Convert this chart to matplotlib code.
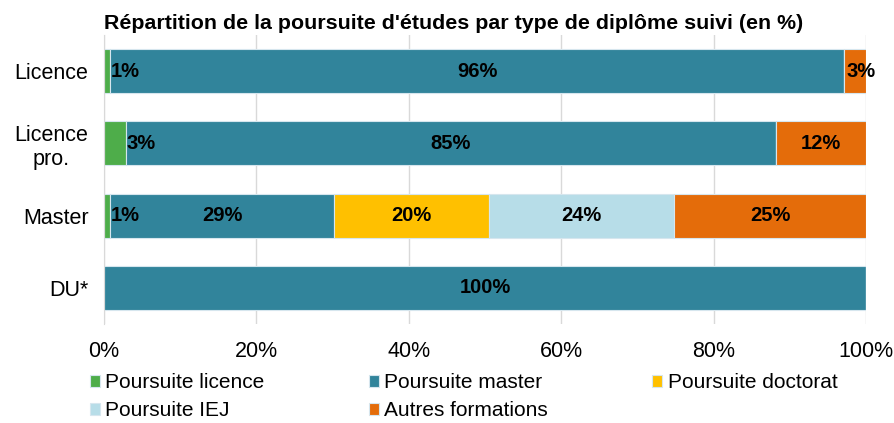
import numpy as np
import matplotlib.pyplot as plt

plt.rcParams['font.family'] = ['Liberation Sans', 'DejaVu Sans']

# données
diplomes = ['Licence', 'Licence\npro.', 'Master', 'DU*']
series = ['Poursuite licence', 'Poursuite master', 'Poursuite doctorat',
          'Poursuite IEJ', 'Autres formations']
licence = [0.8, 2.9, 0.8, 0]
master = [96.3, 85.2, 29.4, 100]
doctorat = [0, 0, 20.3, 0]
iej = [0, 0, 24.3, 0]
autres = [2.9, 11.9, 25.2, 0]
etiquettes = [
    ['1%', '3%', '1%', ''],
    ['96%', '85%', '29%', '100%'],
    ['', '', '20%', ''],
    ['', '', '24%', ''],
    ['3%', '12%', '25%', ''],
]
couleurs = ['#4ead4a', '#31849b', '#ffc000', '#b7dde8', '#e46c0a']

valeurs = np.array([licence, master, doctorat, iej, autres])

fig = plt.figure(figsize=(8.95, 4.23), dpi=100)
ax = fig.add_axes([0.116, 0.234, 0.852, 0.683])

y = np.arange(len(diplomes))
gauche = np.zeros(len(diplomes))
barres = []
for k in range(len(series)):
    b = ax.barh(y, valeurs[k], left=gauche, height=0.61, color=couleurs[k],
                edgecolor='#d6e6ee', linewidth=0.8, label=series[k], zorder=2)
    barres.append(b)
    for i in range(len(diplomes)):
        txt = etiquettes[k][i]
        if not txt:
            continue
        w = valeurs[k][i]
        if k == 0:
            # petits segments : étiquette juste après le segment
            ax.text(gauche[i] + w + 0.1, y[i], txt, ha='left', va='center',
                    fontsize=14.5, fontweight='bold', color='black', zorder=3)
        else:
            ax.text(gauche[i] + w / 2 + (0.8 if w < 5 else 0), y[i], txt,
                    ha='center', va='center', fontsize=14.5,
                    fontweight='bold', color='black', zorder=3)
    gauche += valeurs[k]

ax.set_xlim(0, 100)
ax.set_ylim(3.5, -0.5)
ax.set_yticks(y)
ax.set_yticklabels(diplomes, fontsize=15.5, multialignment='center')
ax.set_xticks(np.arange(0, 101, 20))
ax.set_xticklabels([f'{v}%' for v in range(0, 101, 20)], fontsize=15.5)
ax.tick_params(axis='x', length=0, pad=12)
ax.tick_params(axis='y', length=0, pad=11)
ax.grid(axis='x', color='#d9d9d9', linewidth=1, zorder=0)
for s in ['top', 'right', 'bottom']:
    ax.spines[s].set_visible(False)
ax.spines['left'].set_color('#d9d9d9')

fig.text(0.116, 0.945, "Répartition de la poursuite d'études par type de diplôme suivi (en %)",
         fontsize=15.4, fontweight='bold', ha='left', va='center')

# légende en lignes : réordonner pour ncol=3
ordre = [0, 3, 1, 4, 2]
fig.legend([barres[i] for i in ordre], [series[i] for i in ordre], ncol=3,
           loc='upper left', bbox_to_anchor=(0.1, 0.118), frameon=False,
           fontsize=15, handlelength=0.5, handleheight=0.5, handletextpad=0.25,
           columnspacing=5.0, labelspacing=0.45, borderaxespad=0, borderpad=0)

fig.savefig('out.png', dpi=100)
